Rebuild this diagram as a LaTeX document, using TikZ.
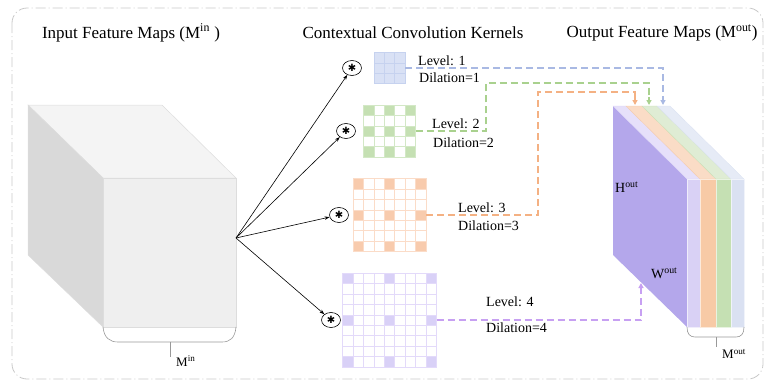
\documentclass[tikz,border=0pt]{standalone}
\usepackage{fontspec}
\setmainfont{Liberation Serif}
\newfontfamily\symfont{DejaVu Sans}
\usetikzlibrary{arrows.meta,shapes.geometric}
\definecolor{framec}{HTML}{C8C8C8}
\definecolor{cubetop}{HTML}{F4F4F4}
\definecolor{cubefront}{HTML}{EFEFEF}
\definecolor{cubeleft}{HTML}{D9D9D9}
\definecolor{cubeedge}{HTML}{DDDDDD}
\definecolor{kblue}{HTML}{D9E1F5}
\definecolor{kbluel}{HTML}{C6D2EF}
\definecolor{kgreen}{HTML}{C5E0B3}
\definecolor{kgreenl}{HTML}{D3E8C6}
\definecolor{korange}{HTML}{F8CBAD}
\definecolor{korangel}{HTML}{FBDCC8}
\definecolor{kpurple}{HTML}{D9D1F7}
\definecolor{kpurplel}{HTML}{E3DAFA}
\definecolor{lblue}{HTML}{A9B9E3}
\definecolor{lgreen}{HTML}{A9D18E}
\definecolor{lorange}{HTML}{F4B183}
\definecolor{lpurple}{HTML}{C7A0F2}
\definecolor{pfront}{HTML}{B4A7EB}
\definecolor{lpv}{HTML}{D9D1F5}
\definecolor{lpt}{HTML}{E6E0FA}
\definecolor{orv}{HTML}{F7CAA6}
\definecolor{ort}{HTML}{FADCC6}
\definecolor{grv}{HTML}{C5E0B3}
\definecolor{grt}{HTML}{DFECD4}
\definecolor{blv}{HTML}{DAE1F2}
\definecolor{blt}{HTML}{E6EBF6}
\definecolor{bracec}{HTML}{999999}
\newcommand\kgrid[6]{%
  \foreach \i in {1,...,#3}{\foreach \j in {1,...,#3}{%
    \pgfmathtruncatemacro\ri{mod(\i-1,#4)}%
    \pgfmathtruncatemacro\rj{mod(\j-1,#4)}%
    \ifnum\numexpr\ri+\rj\relax=0 \def\fc{#5}\else\def\fc{white}\fi
    \filldraw[fill=\fc,draw=#6,line width=0.6pt] ({#1-#3*5.2+(\i-1)*10.4},{#2-#3*5.2+(\j-1)*10.4}) rectangle +(10.4,10.4);
  }}}
\begin{document}
\begin{tikzpicture}[x=1pt,y=-1pt,
  title/.style={font=\fontsize{17}{20}\selectfont, inner sep=0pt},
  lab/.style={font=\fontsize{14}{16}\selectfont, inner sep=0pt, anchor=west},
  conv/.style={draw, ellipse, minimum width=19pt, minimum height=15pt, inner sep=0pt, line width=0.6pt, font=\symfont\fontsize{10}{10}\selectfont},
  inarrow/.style={-{Stealth[length=5pt,width=3.5pt]}, line width=0.6pt},
  dlink/.style={line width=1.3pt, dash pattern=on 7pt off 4pt},
  dtip/.style={-{Triangle[length=5pt,width=5pt]}, line width=1.3pt},
  brace/.style={draw=bracec, line width=0.6pt}]
\useasboundingbox (0,0) rectangle (766,383);
% frame
\draw[framec, line width=0.8pt, dash pattern=on 10pt off 3pt on 1pt off 3pt, rounded corners=15pt] (12,8) rectangle (763,379);
% titles
\node[title] (t1) at (131,33) {Input Feature Maps (M\textsuperscript{in} )};
\node[title] (t2) at (413,33) {Contextual Convolution Kernels};
\node[title] (t3) at (662,33) {Output Feature Maps (M\textsuperscript{out})};
% input cube
\filldraw[fill=cubetop, draw=cubeedge, line width=0.5pt] (28,105) -- (162,105) -- (236,178) -- (103,178) -- cycle;
\filldraw[fill=cubeleft, draw=cubeedge, line width=0.5pt] (28,105) -- (103,178) -- (103,327) -- (28,255) -- cycle;
\node[fill=cubefront, draw=cubeedge, line width=0.5pt, minimum width=133pt, minimum height=149pt, inner sep=0pt] (inface) at (169.5,252.5) {};
\coordinate (src) at (236,238);
% input brace
\draw[brace] (103,327) .. controls (104,338) and (110,342) .. (118,342) -- (222,342) .. controls (230,342) and (235,338) .. (236,327);
\coordinate (bi) at (170,342);
\coordinate (bie) at (170,357);
\draw[brace] (bi) -- (bie);
\node[lab, font=\fontsize{13}{15}\selectfont] (minlab) at (176,361) {M\textsuperscript{in}};
% conv symbols
\node[conv] (c1) at (352,68) {✱};
\node[conv] (c2) at (346,131) {✱};
\node[conv] (c3) at (339,215) {✱};
\node[conv] (c4) at (331,320) {✱};
\foreach \c in {c1,c2,c3,c4} \draw[inarrow] (src) -- (\c);
% kernels
\kgrid{389.5}{68}{3}{1}{kblue}{kbluel}
\kgrid{389.5}{131}{5}{2}{kgreen}{kgreenl}
\kgrid{389.5}{215}{7}{3}{korange}{korangel}
\kgrid{389.5}{320}{9}{4}{kpurple}{kpurplel}
\node[minimum size=31.2pt, inner sep=0pt] (k1) at (389.5,68) {};
\node[minimum size=52pt, inner sep=0pt] (k2) at (389.5,131) {};
\node[minimum size=72.8pt, inner sep=0pt] (k3) at (389.5,215) {};
\node[minimum size=93.6pt, inner sep=0pt] (k4) at (389.5,320) {};
% output block
\fill[pfront] (613,106) -- (687,179) -- (687,327) -- (613,255) -- cycle;
\foreach \a/\b/\cf/\ct in {687/700/lpv/lpt, 700/716/orv/ort, 716/731/grv/grt, 731/744/blv/blt} {
  \filldraw[fill=\ct, draw=\cf, line width=0.3pt] (\a,179) -- (\b,179) -- (\b-74,106) -- (\a-74,106) -- cycle;
  \filldraw[fill=\cf, draw=white!60!\cf, line width=0.3pt] (\a,179) rectangle (\b,327);
}
\node[lab] (hout) at (615,187) {H\textsuperscript{out}};
\node[lab] (wout) at (651,273) {W\textsuperscript{out}};
% output brace
\draw[brace] (687,327) .. controls (687,334) and (690,337) .. (695,337) -- (736,337) .. controls (741,337) and (744,334) .. (744,327);
\coordinate (bo) at (716,337);
\coordinate (boe) at (716,347);
\draw[brace] (bo) -- (boe);
\node[lab, font=\fontsize{13}{15}\selectfont] (mout) at (722,354) {M\textsuperscript{out}};
% targets
\coordinate (tb) at (663,105);
\coordinate (tg) at (649,105);
\coordinate (to) at (635,105);
\coordinate (tp) at (641,283);
% dashed links
\draw[lblue, dlink] (k1.east) -- (663,68) -- (663,98);
\draw[lblue, dtip] (663,97) -- (tb);
\draw[lgreen, dlink] (k2.east) -- (486,131) -- (486,83) -- (649,83) -- (649,98);
\draw[lgreen, dtip] (649,97) -- (tg);
\draw[lorange, dlink] (k3.east) -- (538,215) -- (538,92) -- (635,92) -- (635,98);
\draw[lorange, dtip] (635,97) -- (to);
\draw[lpurple, dlink] (k4.east) -- (641,320) -- (641,291);
\draw[lpurple, dtip] (641,292) -- (tp);
% labels
\node[lab] (l1) at (418,61) {Level: 1};
\node[lab] (d1) at (419,78) {Dilation=1};
\node[lab] (l2) at (432,124) {Level: 2};
\node[lab] (d2) at (433,143) {Dilation=2};
\node[lab] (l3) at (458,208) {Level: 3};
\node[lab] (d3) at (458,226) {Dilation=3};
\node[lab] (l4) at (486,302) {Level: 4};
\node[lab] (d4) at (486,328) {Dilation=4};
\end{tikzpicture}
\end{document}
